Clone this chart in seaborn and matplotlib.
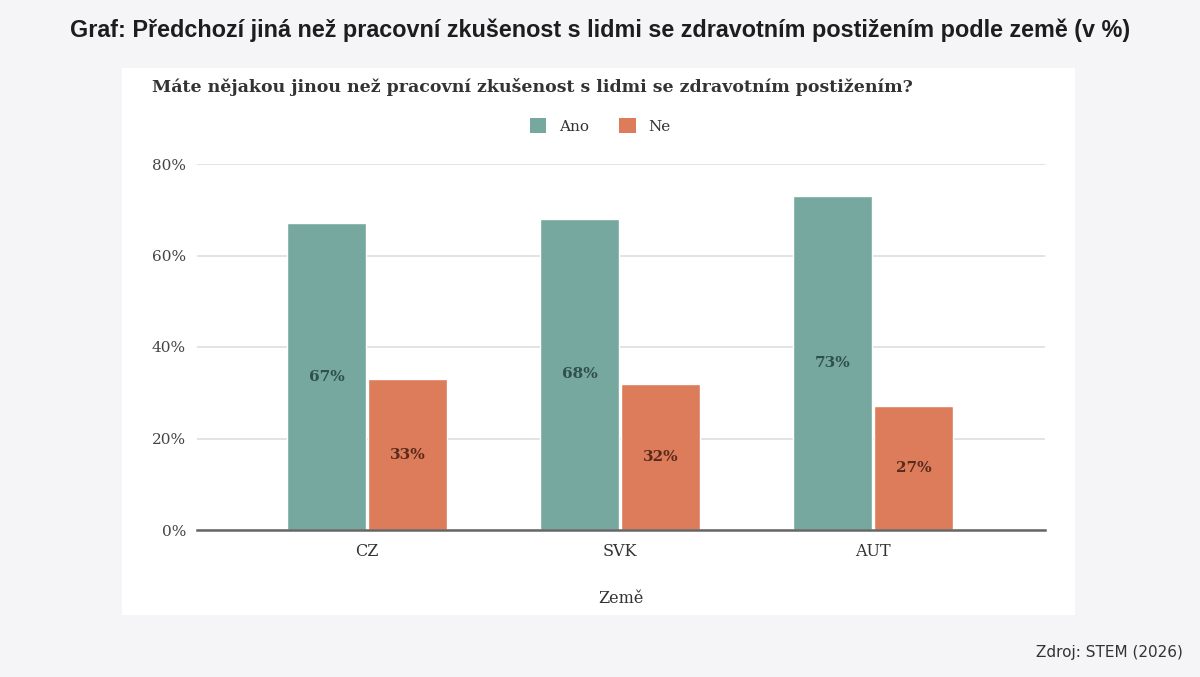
import matplotlib
matplotlib.use("Agg")
import matplotlib.pyplot as plt
import seaborn as sns
import pandas as pd
from matplotlib.patches import Rectangle, Patch

countries = ["CZ", "SVK", "AUT"]
series = ["Ano", "Ne"]
ano = [67, 68, 73]
ne = [33, 32, 27]
y_ticks = [0, 20, 40, 60, 80]
y_tick_labels = ["0%", "20%", "40%", "60%", "80%"]

colors = {"Ano": "#76a8a0", "Ne": "#dc7c5b"}
label_colors = {"Ano": "#2f4f4b", "Ne": "#5a2a1c"}

df = pd.DataFrame({
    "country": countries * 2,
    "series": ["Ano"] * len(countries) + ["Ne"] * len(countries),
    "value": ano + ne,
})

sns.set_theme(style="white")
plt.rcParams['font.family'] = ['DejaVu Sans']
SERIF = "DejaVu Serif"

W, H = 1200, 677
fig = plt.figure(figsize=(W / 100, H / 100), dpi=100, facecolor="#f5f5f7")

# white panel
fig.patches.append(Rectangle((122 / W, 1 - 615 / H), (1075 - 122) / W, (615 - 68) / H,
                             transform=fig.transFigure, facecolor="white", edgecolor="none", zorder=-10))

ax = fig.add_axes([197 / W, 1 - 530 / H, (1045 - 197) / W, (530 - 164) / H])
ax.set_facecolor("none")
ax.set_zorder(2)

sns.barplot(data=df, x="country", y="value", hue="series", order=countries, hue_order=series,
            palette=colors, width=0.64, gap=0.03, ax=ax, legend=False, saturation=1, zorder=3)

ax.set_ylim(0, 80)
ax.set_xlim(-0.672, 2.68)
ax.set_yticks(y_ticks)
ax.set_yticklabels(y_tick_labels, fontfamily=SERIF, fontsize=11, color="#444444")
ax.tick_params(axis="both", length=0, pad=8)
for lab in ax.get_xticklabels():
    lab.set_fontfamily(SERIF)
    lab.set_fontsize(11.5)
    lab.set_color("#333333")
ax.tick_params(axis="x", pad=9)
ax.yaxis.grid(True, color="#dedede", linewidth=1.2, zorder=0)
ax.set_axisbelow(True)
for s in ["top", "right", "left"]:
    ax.spines[s].set_visible(False)
ax.spines["bottom"].set_color("#666666")
ax.spines["bottom"].set_linewidth(1.8)
ax.spines["bottom"].set_zorder(5)
ax.set_ylabel("")
ax.set_xlabel("Země", fontfamily=SERIF, fontsize=11.5, color="#333333", labelpad=22)

for container, s in zip(ax.containers, series):
    for bar in container:
        h = bar.get_height()
        ax.text(bar.get_x() + bar.get_width() / 2, h / 2, f"{h:.0f}%", ha="center", va="center",
                fontfamily=SERIF, fontweight="bold", fontsize=11, color=label_colors[s], zorder=6)

fig.text(0.5, 1 - 30 / H, "Graf: Předchozí jiná než pracovní zkušenost s lidmi se zdravotním postižením podle země (v %)",
         ha="center", va="center", fontsize=16.8, fontweight="bold", color="#1d1d1f", fontfamily="Liberation Sans")
fig.text(152 / W, 1 - 87 / H, "Máte nějakou jinou než pracovní zkušenost s lidmi se zdravotním postižením?",
         ha="left", va="center", fontsize=12.5, fontweight="bold", color="#333333", fontfamily=SERIF)
fig.text(1183 / W, 1 - 652 / H, "Zdroj: STEM (2026)", ha="right", va="center", fontsize=11,
         color="#333333", fontfamily="DejaVu Sans")

handles = [Patch(facecolor=colors[s], edgecolor="none") for s in series]
leg = fig.legend(handles, series, loc="center", bbox_to_anchor=(600 / W, 1 - 126 / H), ncol=2, frameon=False,
                 prop={"family": SERIF, "size": 11}, handlelength=1.1, handleheight=1.1,
                 columnspacing=2.0, handletextpad=0.8)
for t in leg.get_texts():
    t.set_color("#333333")

fig.savefig("out.png", dpi=100, facecolor=fig.get_facecolor())
